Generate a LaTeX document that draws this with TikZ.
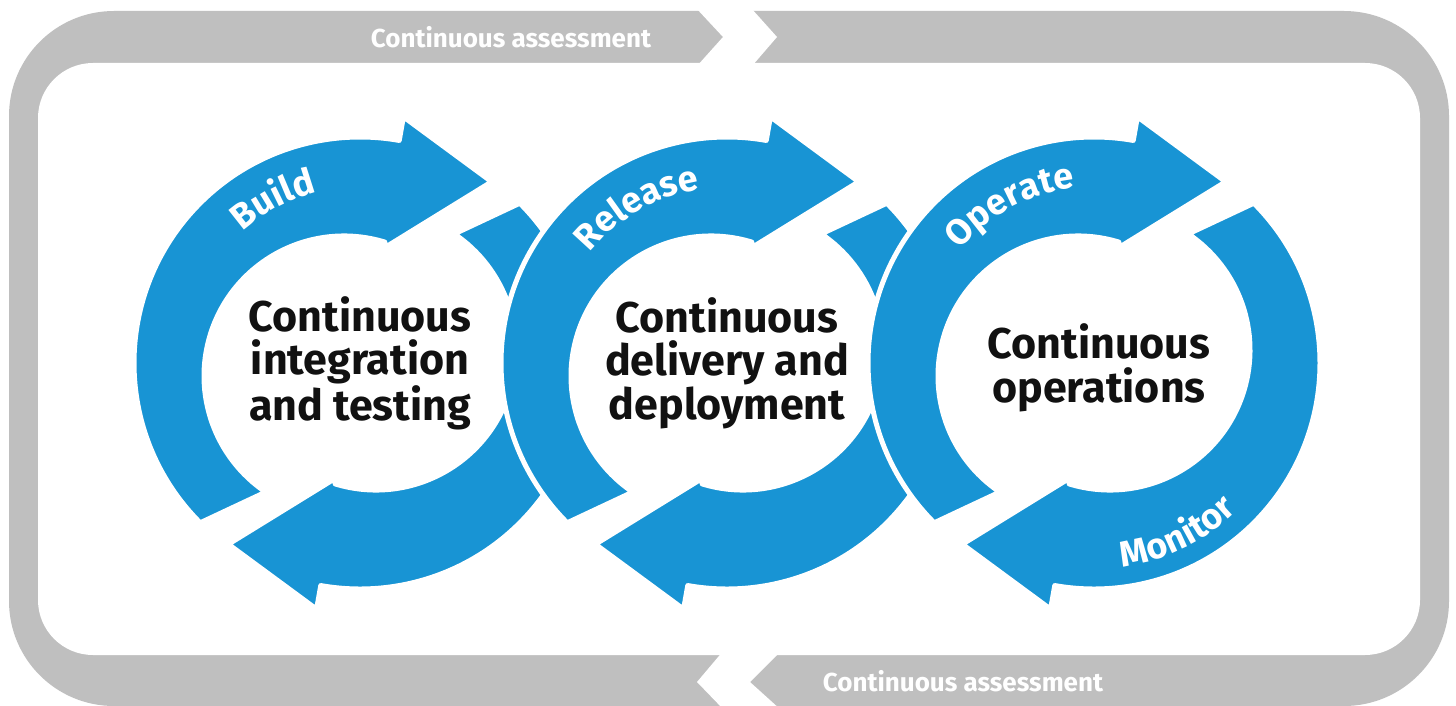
\documentclass[tikz,border=0pt]{standalone}
\usepackage{fontspec}
\setmainfont{Fira Sans}
\usetikzlibrary{calc,decorations.text}
\definecolor{hpblue}{RGB}{24,148,212}
\definecolor{framegray}{RGB}{191,191,191}
\definecolor{inkblack}{RGB}{17,17,17}
\newcommand{\lblfont}{\fontsize{36}{36}\selectfont\bfseries}
\newcommand{\onearrow}{%
  \filldraw[arrowband] (135:226) arc[start angle=135,end angle=280,radius=226]
    -- (280:250) -- (306:224) -- ($(-16,13)+(287:133)$) -- ($(-16,13)+(287:140)$)
    arc[start angle=287,end angle=124,radius=140] -- cycle;}
\begin{document}
\begin{tikzpicture}[x=1pt,y=-1pt,
  arrowband/.style={fill=hpblue, draw=white, line width=5pt, line join=round},
  ctr/.style={text=inkblack, align=center, font=\fontsize{43}{43.5}\selectfont\bfseries, inner sep=0pt},
  assess/.style={text=white, font=\fontsize{26}{26}\selectfont\bfseries, inner sep=0pt},
  arclabel/.style={decorate, decoration={text along path, text align=center, text color=white, text={|\lblfont|#1}}}]
\useasboundingbox (0,0) rectangle (1456,706);
\clip (0,0) rectangle (1456,706);
\fill[white] (0,0) rectangle (1456,706);
% frame
\fill[framegray, rounded corners=105pt] (9,11) rectangle (1449,706);
\fill[white, rounded corners=55pt] (38,63) rectangle (1420,655);
\fill[white] (696,8) -- (723,37) -- (697,66) -- (752,66) -- (777,37) -- (751,8) -- cycle;
\fill[white] (724,650) -- (697,682) -- (724,710) -- (781,710) -- (750,682) -- (782,650) -- cycle;
\node[assess] (assesstop) at (511,37) {Continuous assessment};
\node[assess] (assessbot) at (963,681) {Continuous assessment};
% rings
\foreach \cx in {360,727,1094} {
  \begin{scope}[shift={(\cx,363)}]
    \fill[white] (-16,13) circle[radius=140];
    \onearrow
    \begin{scope}[rotate=180]\onearrow\end{scope}
  \end{scope}
}
% curved labels
\begin{scope}[shift={(360,363)}]
  \path[arclabel=Build] (192:176) arc[start angle=192,end angle=292,radius=176];
\end{scope}
\begin{scope}[shift={(727,363)}]
  \path[arclabel=Release] (190:176) arc[start angle=190,end angle=290,radius=176];
\end{scope}
\begin{scope}[shift={(1094,363)}]
  \path[arclabel=Operate] (192:176) arc[start angle=192,end angle=292,radius=176];
  \path[arclabel=Monitor] (112:206) arc[start angle=112,end angle=16,radius=206];
\end{scope}
% centre texts
\node[ctr] (ci) at (360,363) {Continuous\\integration\\and testing};
\node[ctr] (cd) at (727,363) {Continuous\\delivery and\\deployment};
\node[ctr] (co) at (1099,368) {Continuous\\operations};
\end{tikzpicture}
\end{document}
